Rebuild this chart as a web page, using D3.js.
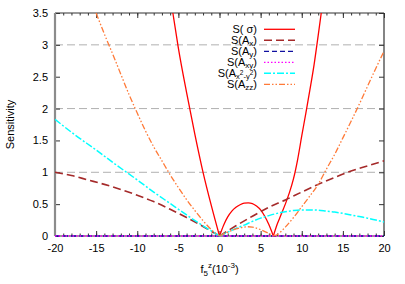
<!DOCTYPE html>
<html>
<head>
<meta charset="utf-8">
<title>Sensitivity vs f5z</title>
<script src="https://d3js.org/d3.v7.min.js"></script>
<style>
  body { margin: 0; background: #fff; }
  svg { font-family: "Liberation Sans", Arial, sans-serif; }
</style>
</head>
<body>
<svg id="chart" width="405" height="284"></svg>
<script>
// ticks
var xTicks = [-20, -15, -10, -5, 0, 5, 10, 15, 20];
var xMinorTicks = d3.range(-20, 21, 1);
var yTicks = [0, 0.5, 1, 1.5, 2, 2.5, 3, 3.5];
var yTickLabels = ["0", "0.5", "1", "1.5", "2", "2.5", "3", "3.5"];
var gridLevels = [1, 2, 3];

// series: each is a list of segments of [x (10^-3), sensitivity]
var sSigma = [
  [[-5.67, 3.5], [-5, 2.95], [-4, 2.25], [-3, 1.6], [-2, 1.0], [-1, 0.48], [0, 0]],
  [[0, 0], [0.5, 0.17], [1, 0.3], [1.5, 0.39], [2, 0.45], [2.5, 0.49], [3, 0.515], [3.5, 0.52],
   [4, 0.51], [4.5, 0.47], [5, 0.41], [5.5, 0.31], [6, 0.18], [6.55, 0]],
  [[6.55, 0], [7, 0.18], [7.5, 0.34], [8, 0.5], [8.5, 0.68], [9, 0.9], [9.5, 1.2], [10, 1.57],
   [10.5, 1.93], [11, 2.3], [11.5, 2.69], [12, 3.15], [12.37, 3.5]]
];
var sAx = [
  [[-20, 1.0], [-18, 0.95], [-16, 0.88], [-14, 0.81], [-12, 0.73], [-10, 0.64], [-8, 0.54],
   [-6, 0.42], [-4, 0.29], [-2, 0.15], [0, 0]],
  [[0, 0], [2, 0.16], [4, 0.31], [6, 0.45], [8, 0.565], [10, 0.69], [12, 0.81], [14, 0.92],
   [16, 1.02], [18, 1.1], [20, 1.18]]
];
var sAy = [[[-20, 0], [20, 0]]];
var sAxy = [[[-20, 0], [20, 0]]];
var sAx2y2 = [
  [[-20, 1.83], [-17.5, 1.58], [-15, 1.35], [-12.5, 1.11], [-10, 0.88], [-8, 0.69], [-6, 0.51],
   [-4, 0.33], [-2, 0.16], [0, 0]],
  [[0, 0], [1, 0.06], [2, 0.12], [3, 0.17], [4, 0.23], [5, 0.28], [6, 0.32], [7, 0.355], [8, 0.38],
   [9, 0.4], [10, 0.41], [11, 0.41], [12, 0.405], [13, 0.39], [14, 0.375], [15, 0.355], [16, 0.33],
   [17, 0.305], [18, 0.28], [19, 0.25], [20, 0.22]]
];
var sAzz = [
  [[-15, 3.5], [-14, 3.17], [-13, 2.86], [-12, 2.54], [-11, 2.22], [-10, 1.93], [-9, 1.65],
   [-8, 1.4], [-7, 1.18], [-6, 0.96], [-5, 0.76], [-4, 0.57], [-3, 0.4], [-2, 0.24], [-1, 0.1], [0, 0]],
  [[0, 0], [1, 0.06], [2, 0.11], [3, 0.14], [3.5, 0.145], [4, 0.14], [5, 0.1], [6, 0.04], [6.55, 0]],
  [[6.55, 0], [7, 0.02], [8, 0.14], [9, 0.29], [10, 0.46], [11, 0.63], [12, 0.81], [13, 1.05],
   [14, 1.28], [15, 1.54], [16, 1.8], [17, 2.07], [18, 2.35], [19, 2.63], [20, 2.9]]
];

// legend label pieces: [text, size, dy]
var legendLabels = [
  [["S( \u03c3)", 11, 0]],
  [["S(A", 11, 0], ["x", 8, 2.5], [")", 11, -2.5]],
  [["S(A", 11, 0], ["y", 8, 2.5], [")", 11, -2.5]],
  [["S(A", 11, 0], ["xy", 8, 2.5], [")", 11, -2.5]],
  [["S(A", 11, 0], ["x", 7.5, 2.5], ["2", 6.5, -4], ["-y", 7.5, 4], ["2", 6.5, -4], [")", 11, 1.5]],
  [["S(A", 11, 0], ["zz", 8, 2.5], [")", 11, -2.5]]
];

var series = [
  { data: sSigma, color: "#ff0000", dash: null, width: 1.3 },
  { data: sAx, color: "#a52a2a", dash: "8,4", width: 1.6 },
  { data: sAy, color: "#1010a0", dash: "5,3", width: 1.3 },
  { data: sAxy, color: "#ff00ff", dash: "1.5,2", width: 1.3 },
  { data: sAx2y2, color: "#00ffff", dash: "7,2,2,2", width: 1.5 },
  { data: sAzz, color: "#ff7a38", dash: "6,2,1.5,2,1.5,2", width: 1.3 }
];

var svg = d3.select("#chart");
var mLeft = 55, mRight = 384, mTop = 13, mBottom = 236;

var x = d3.scaleLinear().domain([-20, 20]).range([mLeft, mRight]);
var y = d3.scaleLinear().domain([0, 3.5]).range([mBottom, mTop]);

// grid
svg.append("g").selectAll("line")
  .data(gridLevels)
  .enter().append("line")
    .attr("x1", mLeft).attr("x2", mRight)
    .attr("y1", function(d) { return y(d); })
    .attr("y2", function(d) { return y(d); })
    .attr("stroke", "#b0b0b0")
    .attr("stroke-dasharray", "8,4");

// clip
svg.append("clipPath").attr("id", "clip")
  .append("rect").attr("x", mLeft).attr("y", mTop)
  .attr("width", mRight - mLeft).attr("height", mBottom - mTop + 2);

// axes
function styleAxis(g) {
  g.select(".domain").remove();
  g.selectAll(".tick line").attr("stroke", "#333");
  g.selectAll("text").attr("font-size", 11).attr("fill", "#000")
    .attr("font-family", "Liberation Sans, Arial, sans-serif");
}
svg.append("g").attr("transform", "translate(0," + mBottom + ")")
  .call(d3.axisBottom(x).tickValues(xMinorTicks).tickSize(-2.5).tickFormat(""))
  .call(styleAxis);
svg.append("g").attr("transform", "translate(0," + mTop + ")")
  .call(d3.axisTop(x).tickValues(xMinorTicks).tickSize(-2.5).tickFormat(""))
  .call(styleAxis);
svg.append("g").attr("transform", "translate(0," + mBottom + ")")
  .call(d3.axisBottom(x).tickValues(xTicks).tickSize(-5).tickPadding(8).tickFormat(String))
  .call(styleAxis);
svg.append("g").attr("transform", "translate(0," + mTop + ")")
  .call(d3.axisTop(x).tickValues(xTicks).tickSize(-5).tickFormat(""))
  .call(styleAxis);
svg.append("g").attr("transform", "translate(" + mLeft + ",0)")
  .call(d3.axisLeft(y).tickValues(yTicks).tickSize(-5).tickPadding(7)
    .tickFormat(function(d, i) { return yTickLabels[i]; }))
  .call(styleAxis);
svg.append("g").attr("transform", "translate(" + mRight + ",0)")
  .call(d3.axisRight(y).tickValues(yTicks).tickSize(-5).tickFormat(""))
  .call(styleAxis);

// frame
svg.append("line").attr("x1", mLeft).attr("x2", mRight).attr("y1", mTop).attr("y2", mTop)
  .attr("stroke", "#333").attr("stroke-width", 1.2);
svg.append("line").attr("x1", mRight).attr("x2", mRight).attr("y1", mTop).attr("y2", mBottom)
  .attr("stroke", "#333").attr("stroke-width", 1.2);
svg.append("line").attr("x1", mLeft).attr("x2", mRight).attr("y1", mBottom).attr("y2", mBottom)
  .attr("stroke", "#333").attr("stroke-width", 1.2);
svg.append("line").attr("x1", mLeft).attr("x2", mLeft).attr("y1", mTop).attr("y2", mBottom)
  .attr("stroke", "#8c8c8c").attr("stroke-width", 2.2);

// curves
var line = d3.line()
  .x(function(d) { return x(d[0]); })
  .y(function(d) { return y(d[1]); })
  .curve(d3.curveMonotoneX);

var plot = svg.append("g").attr("clip-path", "url(#clip)");
series.forEach(function(s) {
  plot.append("g").selectAll("path")
    .data(s.data)
    .enter().append("path")
      .attr("d", line)
      .attr("fill", "none")
      .attr("stroke", s.color)
      .attr("stroke-width", s.width)
      .attr("stroke-dasharray", s.dash);
});

// legend
var legend = svg.append("g");
series.forEach(function(s, i) {
  var cy = 29.3 + i * 11;
  var t = legend.append("text")
    .attr("x", 257).attr("y", cy + 3.5)
    .attr("text-anchor", "end")
    .attr("font-size", 11);
  legendLabels[i].forEach(function(p) {
    t.append("tspan").attr("font-size", p[1]).attr("dy", p[2]).text(p[0]);
  });
  legend.append("line")
    .attr("x1", 264).attr("x2", 295)
    .attr("y1", cy).attr("y2", cy)
    .attr("stroke", s.color)
    .attr("stroke-width", s.width)
    .attr("stroke-dasharray", s.dash);
});

// axis titles
var xt = svg.append("text")
  .attr("x", (mLeft + mRight) / 2).attr("y", 273)
  .attr("text-anchor", "middle").attr("font-size", 11);
xt.append("tspan").text("f");
xt.append("tspan").attr("font-size", 8).attr("dy", 3).text("5");
xt.append("tspan").attr("font-size", 8).attr("dy", -8).text("z");
xt.append("tspan").attr("font-size", 11).attr("dy", 5).text("(10");
xt.append("tspan").attr("font-size", 8).attr("dy", -5).text("-3");
xt.append("tspan").attr("font-size", 11).attr("dy", 5).text(")");

svg.append("text")
  .attr("transform", "translate(14," + ((mTop + mBottom) / 2) + ") rotate(-90)")
  .attr("text-anchor", "middle").attr("font-size", 11)
  .text("Sensitivity");
</script>
</body>
</html>
